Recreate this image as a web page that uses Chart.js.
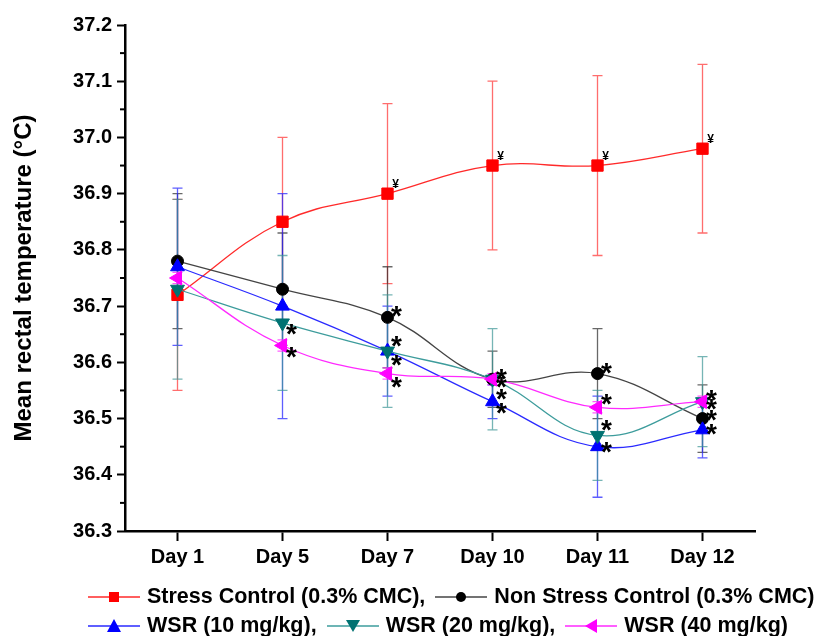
<!DOCTYPE html>
<html>
<head>
<meta charset="utf-8">
<script src="https://cdn.jsdelivr.net/npm/chart.js@4.4.0/dist/chart.umd.min.js"></script>
<style>
  html, body { margin: 0; padding: 0; background: #fff; }
  #wrap { position: relative; width: 824px; height: 636px; }
  #legend { position: absolute; left: 88px; top: 582px; font: bold 21.5px "Liberation Sans", Arial, sans-serif; color: #000; }
  .row { display: flex; align-items: center; height: 29px; white-space: nowrap; }
  .item { display: flex; align-items: center; margin-right: 10px; flex-shrink: 0; }
  .item svg { margin-right: 7px; }
</style>
</head>
<body>
<div id="wrap">
  <canvas id="chart" width="824" height="636"></canvas>
  <div id="legend"></div>
</div>
<script>
const days = ["Day 1", "Day 5", "Day 7", "Day 10", "Day 11", "Day 12"];
const yTicks = [36.3, 36.4, 36.5, 36.6, 36.7, 36.8, 36.9, 37.0, 37.1, 37.2];

const stressMean = [36.72, 36.85, 36.90, 36.95, 36.95, 36.98];
const stressSd = [0.17, 0.15, 0.16, 0.15, 0.16, 0.15];
const nonStressMean = [36.78, 36.73, 36.68, 36.57, 36.58, 36.50];
const nonStressSd = [0.12, 0.10, 0.09, 0.05, 0.08, 0.06];
const wsr10Mean = [36.77, 36.70, 36.62, 36.53, 36.45, 36.48];
const wsr10Sd = [0.14, 0.20, 0.08, 0.03, 0.09, 0.05];
const wsr20Mean = [36.73, 36.67, 36.62, 36.57, 36.47, 36.53];
const wsr20Sd = [0.16, 0.12, 0.10, 0.09, 0.08, 0.08];
const wsr40Mean = [36.75, 36.63, 36.58, 36.57, 36.52, 36.53];
const wsr40Sd = [0.01, 0.01, 0.01, 0.01, 0.01, 0.01];

// significance marks: ¥ vs non stress, * vs stress control
const stressYen = [0, 0, 1, 1, 1, 1];
const nonStressStar = [0, 0, 1, 1, 1, 1];
const wsr10Star = [0, 0, 1, 1, 1, 1];
const wsr20Star = [0, 1, 1, 1, 1, 1];
const wsr40Star = [0, 1, 1, 1, 1, 1];

// where each * sits relative to its point (pixels)
const starDy = {
  nonStress: [0, 0, -8, -7, -8, -6],
  wsr10: [0, 0, -12, 4, -2, -3],
  wsr20: [0, 4, 7, 13, -12, 0],
  wsr40: [0, 5, 6, 1, -10, -9]
};

const FONT = '"Liberation Sans", Arial, sans-serif';

function series(key, label, mean, sd, marks, line, fill, bar, style, radius, rotation, order) {
  return {
    key, label, data: mean, sd, marks,
    borderColor: line, borderWidth: 1.3, tension: 0.4,
    pointStyle: style, pointRadius: radius, pointRotation: rotation,
    pointBackgroundColor: fill, pointBorderColor: fill, pointBorderWidth: 1,
    errorColor: bar, order
  };
}

const datasets = [
  series("stress", "Stress Control (0.3% CMC)", stressMean, stressSd, stressYen, "#ff2a2a", "#ff0000", "rgba(255,60,60,0.75)", "rect", 8, 0, 5),
  series("nonStress", "Non Stress Control (0.3% CMC)", nonStressMean, nonStressSd, nonStressStar, "#444444", "#000000", "rgba(40,40,40,0.7)", "circle", 6, 0, 4),
  series("wsr10", "WSR (10 mg/kg)", wsr10Mean, wsr10Sd, wsr10Star, "#2a2aff", "#0000ff", "rgba(40,40,255,0.75)", "triangle", 8, 0, 3),
  series("wsr20", "WSR (20 mg/kg)", wsr20Mean, wsr20Sd, wsr20Star, "#3d9c9c", "#007272", "rgba(60,150,150,0.7)", "triangle", 8, 180, 2),
  series("wsr40", "WSR (40 mg/kg)", wsr40Mean, wsr40Sd, wsr40Star, "#ff2aff", "#ff00ff", "rgba(255,40,255,0.75)", "triangle", 8, -90, 1)
];

const errorBars = {
  id: "errorBars",
  beforeDatasetsDraw(chart) {
    const { ctx, scales: { y } } = chart;
    ctx.save();
    ctx.lineWidth = 1.3;
    chart.data.datasets.forEach((ds, i) => {
      const meta = chart.getDatasetMeta(i);
      ctx.strokeStyle = ds.errorColor;
      meta.data.forEach((pt, j) => {
        const top = y.getPixelForValue(ds.data[j] + ds.sd[j]);
        const bot = y.getPixelForValue(ds.data[j] - ds.sd[j]);
        ctx.beginPath();
        ctx.moveTo(pt.x, top); ctx.lineTo(pt.x, bot);
        ctx.moveTo(pt.x - 5, top); ctx.lineTo(pt.x + 5, top);
        ctx.moveTo(pt.x - 5, bot); ctx.lineTo(pt.x + 5, bot);
        ctx.stroke();
      });
    });
    ctx.restore();
  }
};

const marks = {
  id: "marks",
  afterDatasetsDraw(chart) {
    const { ctx } = chart;
    ctx.save();
    ctx.fillStyle = "#000";
    ctx.textAlign = "center";
    ctx.textBaseline = "alphabetic";
    chart.data.datasets.forEach((ds, i) => {
      const meta = chart.getDatasetMeta(i);
      meta.data.forEach((pt, j) => {
        if (!ds.marks[j]) return;
        if (ds.key === "stress") {
          ctx.font = "bold 12px " + FONT;
          ctx.fillText("¥", pt.x + 8, pt.y - 6);
        } else {
          ctx.font = "bold 28px " + FONT;
          ctx.fillText("*", pt.x + 9, pt.y + starDy[ds.key][j] + 16);
        }
      });
    });
    ctx.restore();
  }
};

const minorTicks = {
  id: "minorTicks",
  afterDraw(chart) {
    const { ctx, scales: { y } } = chart;
    ctx.save();
    ctx.strokeStyle = "#000";
    ctx.lineWidth = 2;
    for (let k = 0; k < yTicks.length - 1; k++) {
      const py = y.getPixelForValue((yTicks[k] + yTicks[k + 1]) / 2);
      ctx.beginPath();
      ctx.moveTo(y.right - 5, py); ctx.lineTo(y.right, py);
      ctx.stroke();
    }
    ctx.restore();
  }
};

const chart = new Chart(document.getElementById("chart"), {
  type: "line",
  data: { labels: days, datasets },
  options: {
    responsive: false,
    animation: false,
    layout: { padding: { top: 25, right: 69, bottom: 0, left: 0 } },
    plugins: { legend: { display: false }, tooltip: { enabled: false } },
    scales: {
      x: {
        offset: true,
        grid: { offset: false, drawOnChartArea: false, tickLength: 10, tickWidth: 2, color: "#000" },
        border: { color: "#000", width: 2.5 },
        ticks: { color: "#000", padding: 4, font: { family: FONT, size: 20, weight: "bold" }, maxRotation: 0 },
        afterFit(scale) { scale.height = 105; }
      },
      y: {
        min: 36.3,
        max: 37.2,
        afterBuildTicks(scale) { scale.ticks = yTicks.map((v) => ({ value: v })); },
        grid: { drawOnChartArea: false, tickLength: 8, tickWidth: 2, color: "#000" },
        border: { color: "#000", width: 2.5 },
        ticks: { color: "#000", padding: 5, font: { family: FONT, size: 20, weight: "bold" }, callback: (v) => Number(v).toFixed(1) },
        title: { display: true, text: "Mean rectal temperature (°C)", color: "#000", padding: { top: 10 }, font: { family: FONT, size: 24, weight: "bold" } },
        afterFit(scale) { scale.width = 125; }
      }
    }
  },
  plugins: [errorBars, marks, minorTicks]
});

// legend: line with marker, two rows as in the figure
const legendRows = [[0, 1], [2, 3, 4]];
function markerSvg(ds) {
  const c = ds.pointBackgroundColor;
  let shape;
  if (ds.pointStyle === "rect") shape = `<rect x="21" y="5" width="10" height="10" fill="${c}"/>`;
  else if (ds.pointStyle === "circle") shape = `<circle cx="26" cy="10" r="5" fill="${c}"/>`;
  else if (ds.pointRotation === 180) shape = `<polygon points="19,4 33,4 26,16" fill="${c}"/>`;
  else if (ds.pointRotation === -90) shape = `<polygon points="20,10 32,3 32,17" fill="${c}"/>`;
  else shape = `<polygon points="26,3 33,16 19,16" fill="${c}"/>`;
  return `<svg width="52" height="20"><line x1="0" y1="10" x2="52" y2="10" stroke="${ds.borderColor}" stroke-width="1.3"/>${shape}</svg>`;
}
document.getElementById("legend").innerHTML = legendRows.map((row, r) => `
  <div class="row">${row.map((i, n) => {
    const ds = datasets[i];
    const last = r === legendRows.length - 1 && n === row.length - 1;
    const text = ds.label + (last || (r === 0 && n === row.length - 1) ? "" : ",");
    return `<span class="item">${markerSvg(ds)}<span>${text}</span></span>`;
  }).join("")}</div>`).join("");
</script>
</body>
</html>
